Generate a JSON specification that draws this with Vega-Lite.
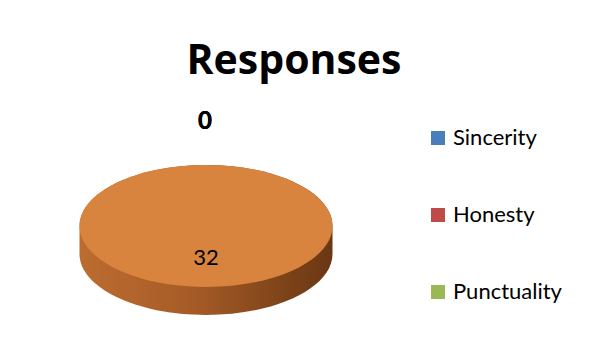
{
  "$schema": "https://vega.github.io/schema/vega-lite/v6.json",
  "width": 412,
  "height": 272,
  "autosize": {"type": "none"},
  "padding": {"left": 0, "top": 90, "right": 187, "bottom": 0},
  "background": "white",
  "title": {
    "text": "Responses",
    "font": "Open Sans",
    "fontSize": 41,
    "fontWeight": "bold",
    "color": "#000000",
    "anchor": "middle",
    "frame": "group",
    "dx": 88,
    "offset": 7
  },
  "config": {
    "view": {"stroke": null},
    "legend": {
      "orient": "none",
      "legendX": 427,
      "legendY": 37,
      "labelFont": "Lato",
      "labelFontSize": 22,
      "labelColor": "#000000",
      "symbolType": "square",
      "symbolSize": 196,
      "symbolStrokeWidth": 0,
      "rowPadding": 55,
      "labelOffset": 4,
      "padding": 0
    }
  },
  "data": {
    "values": [
      {"category": "Sincerity", "value": 0},
      {"category": "Honesty", "value": 0},
      {"category": "Punctuality", "value": 0},
      {"category": "Other", "value": 32}
    ]
  },
  "layer": [
    {
      "transform": [{"filter": "datum.value > 0"}],
      "mark": {
        "type": "point",
        "filled": true,
        "opacity": 1,
        "size": 64009,
        "strokeWidth": 0,
        "shape": "M-1,0 A1,0.482 0 0,1 1,0 L1,0.221 A1,0.482 0 0,1 -1,0.221 Z",
        "fill": {
          "gradient": "linear",
          "x1": 0, "y1": 0, "x2": 1, "y2": 0,
          "stops": [
            {"offset": 0, "color": "#BC6C2F"},
            {"offset": 0.45, "color": "#A65B27"},
            {"offset": 0.8, "color": "#7E4419"},
            {"offset": 1, "color": "#6A3714"}
          ]
        }
      },
      "encoding": {}
    },
    {
      "transform": [{"filter": "datum.value > 0"}],
      "mark": {
        "type": "point",
        "filled": true,
        "opacity": 1,
        "size": 64009,
        "strokeWidth": 0,
        "shape": "M-1,0 A1,0.482 0 1,1 1,0 A1,0.482 0 1,1 -1,0 Z",
        "fill": "#D8833E"
      },
      "encoding": {}
    },
    {
      "transform": [{"filter": "datum.value == 0"}],
      "mark": {"type": "point", "filled": true, "size": 0, "opacity": 1},
      "encoding": {
        "color": {
          "field": "category",
          "type": "nominal",
          "scale": {
            "domain": ["Sincerity", "Honesty", "Punctuality"],
            "range": ["#4A7EBB", "#BE4B48", "#98B954"]
          },
          "legend": {"title": null, "symbolOpacity": 1}
        }
      }
    },
    {
      "transform": [{"filter": "datum.value == 0"}],
      "mark": {"type": "text", "font": "Lato", "fontSize": 24, "fontWeight": "bold", "color": "#000000", "dx": -1, "dy": -104},
      "encoding": {"text": {"field": "value", "type": "quantitative"}}
    },
    {
      "transform": [{"filter": "datum.value > 0"}],
      "mark": {"type": "text", "font": "Lato", "fontSize": 22, "color": "#000000", "dy": 32},
      "encoding": {"text": {"field": "value", "type": "quantitative"}}
    }
  ]
}
